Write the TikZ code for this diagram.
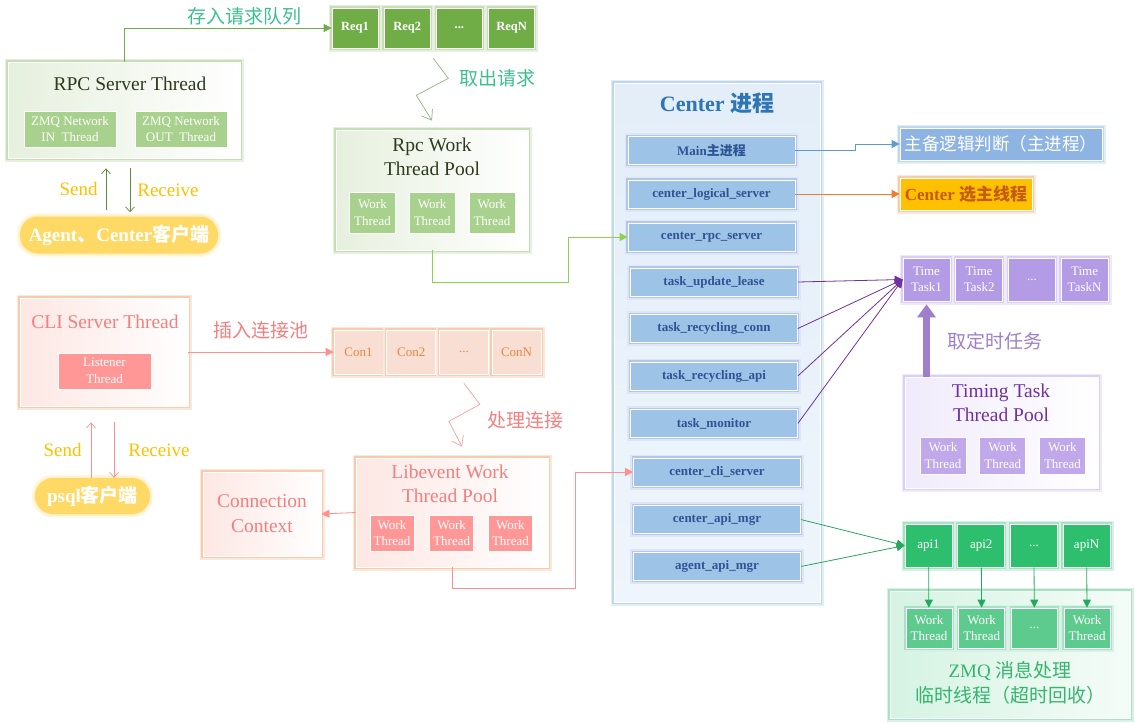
\documentclass[tikz,border=0pt]{standalone}
\usepackage{fontspec}
\setmainfont{Liberation Serif}
\newfontfamily\cjk{Noto Sans CJK SC}
\usetikzlibrary{arrows.meta, positioning, calc}

\definecolor{rpcfill}{HTML}{E6F0DE}
\definecolor{rpcglow}{HTML}{C5DFB4}
\definecolor{rpccell}{HTML}{A9D18E}
\definecolor{reqcell}{HTML}{70AD47}
\definecolor{rpctext}{HTML}{2E3B1F}
\definecolor{rpcarr}{HTML}{5E8C3A}
\definecolor{tealtxt}{HTML}{3DBF8E}
\definecolor{zigline}{HTML}{95AE84}
\definecolor{lgreen}{HTML}{92D050}
\definecolor{sendtxt}{HTML}{FFC000}
\definecolor{pillfill}{HTML}{FFD966}
\definecolor{pillglow}{HTML}{FFF0C6}
\definecolor{ctrfill}{HTML}{E3EEF9}
\definecolor{ctrglow}{HTML}{BDD7EE}
\definecolor{ctrtitle}{HTML}{2E75B6}
\definecolor{itemfill}{HTML}{9DC3E6}
\definecolor{itemglow}{HTML}{B4C6EA}
\definecolor{itemtext}{HTML}{2F5496}
\definecolor{zbfill}{HTML}{8EB4E3}
\definecolor{bluearr}{HTML}{5B9BD5}
\definecolor{orgfill}{HTML}{FFC000}
\definecolor{orgtext}{HTML}{C55A11}
\definecolor{orgglow}{HTML}{F8CBAD}
\definecolor{orgarr}{HTML}{ED7D31}
\definecolor{ttcell}{HTML}{B49BE6}
\definecolor{ttglow}{HTML}{DCCFF5}
\definecolor{ttarr}{HTML}{7030A0}
\definecolor{ttblock}{HTML}{9F7FCB}
\definecolor{ttfill}{HTML}{F0EBFB}
\definecolor{ttwork}{HTML}{C0A8EA}
\definecolor{apicell}{HTML}{2EBF6E}
\definecolor{apiglow}{HTML}{A6E3C2}
\definecolor{apiarr}{HTML}{22A95E}
\definecolor{zmqfill}{HTML}{D5F3E2}
\definecolor{zmqwork}{HTML}{5DCB8D}
\definecolor{zmqtext}{HTML}{35B56E}
\definecolor{clifill}{HTML}{FDE7E3}
\definecolor{cliglow}{HTML}{F8CBAD}
\definecolor{clititle}{HTML}{F37F7F}
\definecolor{listfill}{HTML}{FF9797}
\definecolor{pinkarr}{HTML}{FF9090}
\definecolor{confill}{HTML}{F9DED3}
\definecolor{context}{HTML}{E8873F}
\definecolor{pinkzig}{HTML}{F4A0A0}

\begin{document}
\begin{tikzpicture}[x=1pt, y=-1pt,
    font=\fontsize{13}{16.5}\selectfont,
    glow/.style={preaction={draw=#1!45, line width=7pt}, preaction={draw=#1, line width=3.5pt}},
    box/.style={draw=white, line width=0.8pt, inner sep=0pt},
    cell/.style={draw=white, line width=0.7pt, align=center, inner sep=0pt, text=white},
    title/.style={align=center, inner sep=1pt, font=\fontsize{19.5}{24}\selectfont},
    lbl/.style={inner sep=1pt, font=\fontsize{19}{21}\selectfont},
    pill/.style={rounded corners=18pt, fill=pillfill, text=white, inner sep=0pt,
      glow=pillglow, font=\bfseries\fontsize{19}{21}\selectfont},
    rpcwork/.style={cell, fill=rpccell, minimum width=46pt, minimum height=41pt},
    reqbox/.style={cell, fill=reqcell, glow=rpcglow, minimum width=46pt, minimum height=40pt,
      font=\bfseries\fontsize{12.5}{14}\selectfont},
    item/.style={cell, fill=itemfill, glow=itemglow, text=itemtext, minimum width=167pt,
      minimum height=28pt, font=\bfseries\fontsize{13}{14}\selectfont},
    ttbox/.style={cell, fill=ttcell, glow=ttglow, minimum width=47pt, minimum height=43pt},
    ttwk/.style={cell, fill=ttwork, minimum width=46pt, minimum height=37pt},
    apibox/.style={cell, fill=apicell, glow=apiglow, minimum width=47pt, minimum height=43pt},
    zmqwk/.style={cell, fill=zmqwork, glow=apiglow, minimum width=46pt, minimum height=40pt},
    conbox/.style={cell, fill=confill, glow=cliglow, text=context, minimum width=49pt, minimum height=44pt},
    libwk/.style={cell, fill=listfill, minimum width=44pt, minimum height=36pt},
    arr/.style={-{Triangle[length=8pt, width=8pt]}, line width=0.8pt},
    barb/.style={-{Straight Barb[length=5pt, width=9pt]}, line width=0.7pt},
    zig/.style={-{Straight Barb[length=9pt, width=13pt]}, line width=0.7pt}
  ]
  \useasboundingbox[fill=white] (0,0) rectangle (1135,723);

  \node[box, glow=rpcglow, left color=rpcfill, right color=white, minimum width=232pt, minimum height=96pt] (rpc) at (124,110) {};
  \node[title, text=rpctext] at ($(rpc.north)+(6,22)$) {RPC Server Thread};
  \node[cell, fill=rpccell, minimum width=92pt, minimum height=36pt] (zin) at (70,129) {ZMQ Network\\IN\enspace Thread};
  \node[cell, fill=rpccell, minimum width=92pt, minimum height=36pt] (zout) at (181,129) {ZMQ Network\\OUT\enspace Thread};

  \node[pill, minimum width=198pt, minimum height=37pt] (agent) at (119,235) {Agent{\cjk 、}Center{\cjk 客户端}};

  \node[reqbox] (req1) at (355,28) {Req1};
  \node[reqbox, right=5.5pt of req1] (req2) {Req2};
  \node[reqbox, right=5.5pt of req2] (reqd) {...};
  \node[reqbox, right=5.5pt of reqd] (reqn) {ReqN};

  \node[box, glow=rpcglow, left color=rpcfill, right color=white, minimum width=192pt, minimum height=120pt] (pool) at (432,190) {};
  \node[title, text=rpctext] at (432,157) {Rpc Work\\Thread Pool};
  \node[rpcwork] (pw1) at (372.5,212.5) {Work\\Thread};
  \node[rpcwork, right=13pt of pw1] (pw2) {Work\\Thread};
  \node[rpcwork, right=13pt of pw2] (pw3) {Work\\Thread};

  \node[box, glow=ctrglow, top color=ctrfill, bottom color=ctrfill!60, minimum width=206pt, minimum height=519pt] (center) at (717,342.5) {};
  \node[font=\bfseries\fontsize{22}{24}\selectfont, text=ctrtitle] at (717,103) {Center {\cjk 进程}};
  \node[item] (main) at (711.5,150.5) {Main{\cjk 主进程}};
  \node[item] (logic) at (711.5,194) {center\_logical\_server};
  \node[item] (crpc) at (711.5,237) {center\_rpc\_server};
  \node[item] (lease) at (714,282) {task\_update\_lease};
  \node[item] (rconn) at (714,328.5) {task\_recycling\_conn};
  \node[item] (rapi) at (714,376) {task\_recycling\_api};
  \node[item] (mon) at (714,423.5) {task\_monitor};
  \node[item] (ccli) at (717,472) {center\_cli\_server};
  \node[item] (capi) at (717,519.5) {center\_api\_mgr};
  \node[item] (aapi) at (717,566.5) {agent\_api\_mgr};

  \node[cell, fill=zbfill, glow=ctrglow, minimum width=202pt, minimum height=32pt, font=\cjk\fontsize{17.5}{19}\selectfont] (zb) at (1001,144) {主备逻辑判断（主进程）};
  \node[cell, fill=orgfill, glow=orgglow, text=orgtext, minimum width=132pt, minimum height=32pt, font=\bfseries\fontsize{17}{19}\selectfont] (xz) at (966,194) {Center {\cjk 选主线程}};

  \node[ttbox] (tt1) at (926.5,279.5) {Time\\Task1};
  \node[ttbox, right=5pt of tt1] (tt2) {Time\\Task2};
  \node[ttbox, right=5pt of tt2] (ttd) {...};
  \node[ttbox, right=5pt of ttd] (ttn) {Time\\TaskN};

  \node[box, glow=ttglow, left color=ttfill, right color=white, minimum width=193pt, minimum height=111pt] (ttpool) at (1001.5,432.5) {};
  \node[title, text=ttarr] at (1001,403) {Timing Task\\Thread Pool};
  \node[ttwk] (tw1) at (943,455.5) {Work\\Thread};
  \node[ttwk, right=13pt of tw1] (tw2) {Work\\Thread};
  \node[ttwk, right=13pt of tw2] (tw3) {Work\\Thread};

  \node[apibox] (api1) at (928.5,545.5) {api1};
  \node[apibox, right=5pt of api1] (api2) {api2};
  \node[apibox, right=5pt of api2] (apid) {...};
  \node[apibox, right=5pt of apid] (apin) {apiN};

  \node[box, glow=apiglow, left color=zmqfill, right color=zmqfill!25, minimum width=240pt, minimum height=127pt] (zmq) at (1010,654.5) {};
  \node[zmqwk] (zw1) at (929,628) {Work\\Thread};
  \node[zmqwk, right=6pt of zw1] (zw2) {Work\\Thread};
  \node[zmqwk, right=6pt of zw2] (zwd) {...};
  \node[zmqwk, right=6pt of zwd] (zwn) {Work\\Thread};
  \node[title, text=zmqtext, font=\fontsize{19}{25}\selectfont] at (1010,683) {ZMQ {\cjk 消息处理}\\{\cjk 临时线程（超时回收）}};

  \node[box, glow=cliglow, left color=clifill, right color=white, minimum width=168pt, minimum height=108pt] (cli) at (104,352) {};
  \node[title, text=clititle] at (105,322) {CLI Server Thread};
  \node[cell, fill=listfill, minimum width=93pt, minimum height=36pt] (listen) at (104.5,371) {Listener\\Thread};
  \node[pill, minimum width=115pt, minimum height=36pt] (psql) at (92.5,496) {psql{\cjk 客户端}};

  \node[conbox] (con1) at (358.5,352) {Con1};
  \node[conbox, right=3pt of con1] (con2) {Con2};
  \node[conbox, right=3pt of con2] (cond) {...};
  \node[conbox, right=3pt of cond] (conn) {ConN};

  \node[box, glow=cliglow, left color=clifill, right color=white, minimum width=192pt, minimum height=109pt] (lib) at (452,512.5) {};
  \node[title, text=clititle] at (450,484) {Libevent Work\\Thread Pool};
  \node[libwk] (lw1) at (392,533) {Work\\Thread};
  \node[libwk, right=15pt of lw1] (lw2) {Work\\Thread};
  \node[libwk, right=14pt of lw2] (lw3) {Work\\Thread};

  \node[box, glow=cliglow, left color=clifill, right color=white, minimum width=118pt, minimum height=84pt,
    align=center, text=clititle, font=\fontsize{19.5}{25}\selectfont] (ctx) at (262,514) {Connection\\Context};

  \draw[arr, reqcell] (rpc.north) |- (req1.west) node[lbl, pos=0.79, above=1pt, text=tealtxt] {\cjk 存入请求队列};
  \draw[barb, rpcarr] ([xshift=-13pt,yshift=6pt]agent.north) -- ([xshift=-18pt,yshift=-10pt]rpc.south)
    node[lbl, midway, left=7pt, text=sendtxt] {Send};
  \draw[barb, rpcarr] ([xshift=6pt,yshift=-10pt]rpc.south) -- ([xshift=11pt,yshift=4pt]agent.north)
    node[lbl, midway, right=6pt, text=sendtxt] {Receive};
  \draw[zig, zigline] ($(req2.south east)!0.5!(reqd.south west)+(0,10)$) -- ++(15,20) -- ++(-32,17) -- ($(pool.north)+(0,-9)$);
  \node[lbl, text=tealtxt] at (497,78) {\cjk 取出请求};
  \draw[arr, lgreen] (pool.south) |- ++(136,32) |- (crpc.west);

  \draw[arr, bluearr] (main.east) -- ++(60,0) |- (zb.west);
  \draw[arr, orgarr] (logic.east) -- (xz.west);
  \draw[arr, ttarr] (lease.east) -- (tt1.west);
  \draw[arr, ttarr] (rconn.east) -- (tt1.west);
  \draw[arr, ttarr] (rapi.east) -- (tt1.west);
  \draw[arr, ttarr] (mon.east) -- (tt1.west);
  \draw[line width=7pt, ttblock, -{Triangle[length=13pt, width=18pt]}, shorten >=3pt] (tt1.south |- ttpool.north) -- (tt1.south);
  \node[lbl, text=ttblock] at (995,341) {\cjk 取定时任务};

  \draw[arr, apiarr] (capi.east) -- (api1.west);
  \draw[arr, apiarr] (aapi.east) -- (api1.west);
  \draw[arr, apiarr] (api1) -- (zw1);
  \draw[arr, apiarr] (api2) -- (zw2);
  \draw[arr, apiarr] (apid) -- (zwd);
  \draw[arr, apiarr] (apin) -- (zwn);

  \draw[arr, pinkarr] (cli.east) -- (con1.west) node[lbl, midway, above=12pt, text=clititle] {\cjk 插入连接池};
  \draw[barb, pinkarr] ([xshift=-1.5pt]psql.north) -- ([xshift=-13pt,yshift=-16pt]cli.south)
    node[lbl, midway, left=8pt, text=sendtxt] {Send};
  \draw[barb, pinkarr] ([xshift=10pt,yshift=-16pt]cli.south) -- ([xshift=21.5pt]psql.north)
    node[lbl, midway, right=13pt, text=sendtxt] {Receive};
  \draw[zig, pinkzig] ($(cond.south)+(0,9)$) -- ++(16,21) -- ++(-31,17) -- ($(lib.north)+(10,-11)$);
  \node[lbl, text=clititle] at (525,420) {\cjk 处理连接};
  \draw[arr, pinkarr] (lib.west) -- (ctx.east);
  \draw[arr, pinkarr] (lib.south) |- ++(123,21) |- (ccli.west);
\end{tikzpicture}
\end{document}
